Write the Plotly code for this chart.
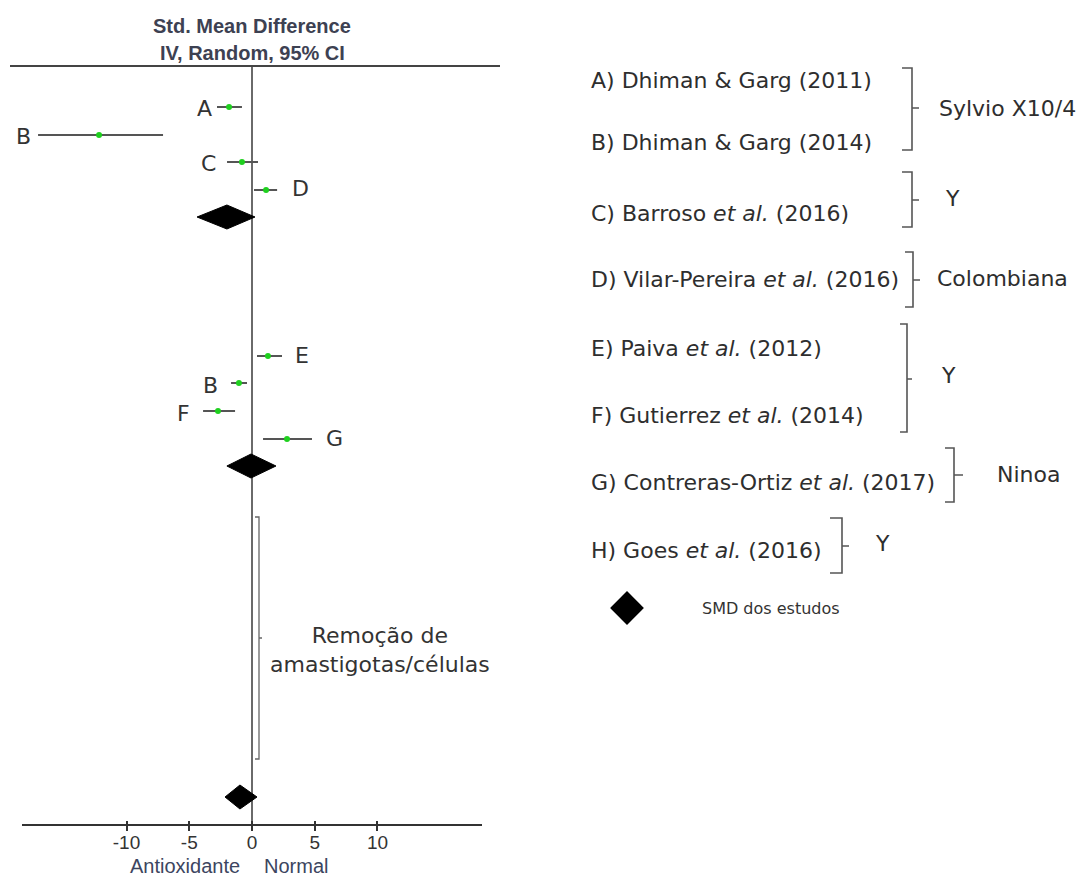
import plotly.graph_objects as go

# ---- Study-level standardized mean differences (IV, random, 95% CI) ----
study_labels = ["A", "B", "C", "D", "E", "B", "F", "G"]
smd = [-1.83, -12.19, -0.80, 1.12, 1.27, -1.04, -2.71, 2.79]
ci_low = [-2.79, -17.05, -1.99, 0.16, 0.40, -1.67, -3.90, 0.88]
ci_high = [-0.80, -7.09, 0.48, 2.00, 2.39, -0.40, -1.35, 4.78]

# ---- Pooled SMD for each outcome block ----
pooled_smd = [-2.00, -0.08, -0.96]
pooled_low = [-4.38, -2.00, -2.15]
pooled_high = [0.24, 1.91, 0.40]

x_ticks = [-10, -5, 0, 5, 10]

# ---- Reference list and strain groups ----
ref_texts = [
    "A) Dhiman &amp; Garg (2011)",
    "B) Dhiman &amp; Garg (2014)",
    "C) Barroso <i>et al.</i> (2016)",
    "D) Vilar-Pereira <i>et al.</i> (2016)",
    "E) Paiva <i>et al.</i> (2012)",
    "F) Gutierrez <i>et al.</i> (2014)",
    "G) Contreras-Ortiz <i>et al.</i> (2017)",
    "H) Goes <i>et al.</i> (2016)",
]
strain_names = ["Sylvio X10/4", "Y", "Colombiana", "Y", "Ninoa", "Y"]

# ---- Layout positions (pixel-like units on the page) ----
study_rows = [107, 135, 162, 190, 356, 383, 411, 439]
pooled_rows = [217, 466, 797]
label_side = ["left", "left", "left", "right", "right", "left", "left", "right"]
label_gap = [3, 5, 9, 13, 11, 11, 11, 12]
ref_rows = [80, 142, 213, 279, 348, 415, 482, 550]
# vertical x, top, bottom, middle, stub x, tick x, label x, label y
brackets = [
    (912, 68, 150, 108, 902, 919, 937, 108),
    (912, 172, 227, 200, 902, 919, 943, 198),
    (913, 252, 307, 280, 905, 920, 935, 278),
    (907, 324, 432, 379, 900, 912, 939, 375),
    (954, 448, 502, 475, 945, 963, 995, 474),
    (842, 518, 573, 546, 830, 849, 873, 543),
]
outcome_bracket = (259, 517, 759, 638, 255, 262)

W, H = 1080, 876
AX_LEFT, AX_RIGHT, AX_TOP, AX_BOTTOM = 22, 482, 66, 825
TICK_HALF = 5
X_HALF = 18.33
DIAMOND_H = 12

TEXT_FONT = "DejaVu Sans"
ARIAL = "Liberation Sans, Arial"

fig = go.Figure()

# Confidence intervals
for lo, hi, r in zip(ci_low, ci_high, study_rows):
    fig.add_trace(go.Scatter(
        x=[lo, hi], y=[r, r], mode="lines",
        line=dict(color="#555555", width=2),
        hoverinfo="skip", showlegend=False, xaxis="x", yaxis="y",
    ))

# Point estimates
fig.add_trace(go.Scatter(
    x=smd, y=study_rows, mode="markers",
    marker=dict(color="#1fd01f", size=6, line=dict(width=0)),
    showlegend=False, xaxis="x", yaxis="y", cliponaxis=False,
))

# Pooled diamonds
for c, lo, hi, r in zip(pooled_smd, pooled_low, pooled_high, pooled_rows):
    fig.add_trace(go.Scatter(
        x=[lo, c, hi, c, lo], y=[r, r - DIAMOND_H, r, r + DIAMOND_H, r],
        mode="lines", fill="toself", fillcolor="#000000",
        line=dict(color="#000000", width=1),
        hoverinfo="skip", showlegend=False, xaxis="x", yaxis="y",
    ))

# Diamond legend symbol (page coordinates)
fig.add_trace(go.Scatter(
    x=[627], y=[608], mode="markers",
    marker=dict(symbol="diamond", size=26, color="#000000", line=dict(width=0)),
    hoverinfo="skip", showlegend=False, xaxis="x3", yaxis="y3",
))

shapes = []
# Line of no effect
shapes.append(dict(type="line", xref="x", yref="y", x0=0, x1=0, y0=AX_TOP, y1=AX_BOTTOM,
                   line=dict(color="#6a6a6a", width=2), layer="below"))
# Horizontal axis rule (ticks cross it from above and below)
shapes.append(dict(type="line", xref="x3", yref="y3", x0=AX_LEFT, x1=AX_RIGHT,
                   y0=AX_BOTTOM, y1=AX_BOTTOM, line=dict(color="#333333", width=2)))
# Header rule
shapes.append(dict(type="line", xref="x3", yref="y3", x0=10, x1=500, y0=AX_TOP, y1=AX_TOP,
                   line=dict(color="#444444", width=2)))


def bracket_path(vx, top, bot, mid, stub, tick):
    return (f"M {stub} {top} L {vx} {top} L {vx} {bot} L {stub} {bot} "
            f"M {vx} {mid} L {tick} {mid}")


for vx, top, bot, mid, stub, tick, _, _ in brackets:
    shapes.append(dict(type="path", xref="x3", yref="y3",
                       path=bracket_path(vx, top, bot, mid, stub, tick),
                       line=dict(color="#555555", width=1.6)))
shapes.append(dict(type="path", xref="x3", yref="y3",
                   path=bracket_path(*outcome_bracket),
                   line=dict(color="#666666", width=1.3)))

annotations = []
# Study letters beside the intervals
for lab, side, gap, lo, hi, r in zip(study_labels, label_side, label_gap, ci_low, ci_high, study_rows):
    if side == "left":
        annotations.append(dict(x=lo, y=r, xref="x", yref="y", text=lab, showarrow=False,
                                xanchor="right", yanchor="middle", xshift=-gap, yshift=-2,
                                font=dict(family=TEXT_FONT, size=22, color="#333333")))
    else:
        annotations.append(dict(x=hi, y=r, xref="x", yref="y", text=lab, showarrow=False,
                                xanchor="left", yanchor="middle", xshift=gap, yshift=1,
                                font=dict(family=TEXT_FONT, size=22, color="#333333")))

# Column header
annotations.append(dict(x=252, y=26, xref="x3", yref="y3", text="<b>Std. Mean Difference</b>",
                        showarrow=False, xanchor="center", yanchor="middle",
                        font=dict(family=ARIAL, size=20, color="#3d4152")))
annotations.append(dict(x=252, y=53, xref="x3", yref="y3", text="<b>IV, Random, 95% CI</b>",
                        showarrow=False, xanchor="center", yanchor="middle",
                        font=dict(family=ARIAL, size=20, color="#3d4152")))

# Favours labels under the axis
annotations.append(dict(x=185, y=866, xref="x3", yref="y3", text="Antioxidante",
                        showarrow=False, xanchor="center", yanchor="middle",
                        font=dict(family=ARIAL, size=20, color="#3c4560")))
annotations.append(dict(x=296, y=866, xref="x3", yref="y3", text="Normal",
                        showarrow=False, xanchor="center", yanchor="middle",
                        font=dict(family=ARIAL, size=20, color="#3c4560")))

# Outcome label
annotations.append(dict(x=380, y=650, xref="x3", yref="y3",
                        text="Remoção de<br>amastigotas/células", showarrow=False,
                        xanchor="center", yanchor="middle", align="center",
                        font=dict(family=TEXT_FONT, size=22, color="#333333")))

# Reference list
for txt, r in zip(ref_texts, ref_rows):
    annotations.append(dict(x=589, y=r, xref="x3", yref="y3", text=txt, showarrow=False,
                            xanchor="left", yanchor="middle",
                            font=dict(family=TEXT_FONT, size=22, color="#2e2e2e")))

# Strain names
for name, b in zip(strain_names, brackets):
    annotations.append(dict(x=b[6], y=b[7], xref="x3", yref="y3", text=name, showarrow=False,
                            xanchor="left", yanchor="middle",
                            font=dict(family=TEXT_FONT, size=22, color="#2e2e2e")))

annotations.append(dict(x=700, y=608, xref="x3", yref="y3", text="SMD dos estudos",
                        showarrow=False, xanchor="left", yanchor="middle",
                        font=dict(family=TEXT_FONT, size=16, color="#333333")))

fig.update_layout(
    width=W, height=H,
    margin=dict(l=0, r=0, t=0, b=0),
    paper_bgcolor="white", plot_bgcolor="rgba(0,0,0,0)",
    showlegend=False,
    shapes=shapes, annotations=annotations,
    xaxis=dict(
        domain=[AX_LEFT / W, AX_RIGHT / W], range=[-X_HALF, X_HALF],
        anchor="free", position=1 - (AX_BOTTOM - TICK_HALF) / H,
        showgrid=False, zeroline=False, showline=False,
        tickmode="array", tickvals=x_ticks, ticktext=[str(t) for t in x_ticks],
        ticks="outside", ticklen=2 * TICK_HALF, tickwidth=2, tickcolor="#333333",
        ticklabelstandoff=-5,
        tickfont=dict(family=ARIAL, size=19, color="#333333"),
        fixedrange=True,
    ),
    yaxis=dict(
        domain=[1 - AX_BOTTOM / H, 1 - AX_TOP / H], range=[AX_BOTTOM, AX_TOP],
        visible=False, showgrid=False, zeroline=False, fixedrange=True,
    ),
    xaxis3=dict(domain=[0, 1], range=[0, W], anchor="y3", visible=False, fixedrange=True),
    yaxis3=dict(domain=[0, 1], range=[H, 0], anchor="x3", visible=False, fixedrange=True),
)

fig.write_html("out.html")
